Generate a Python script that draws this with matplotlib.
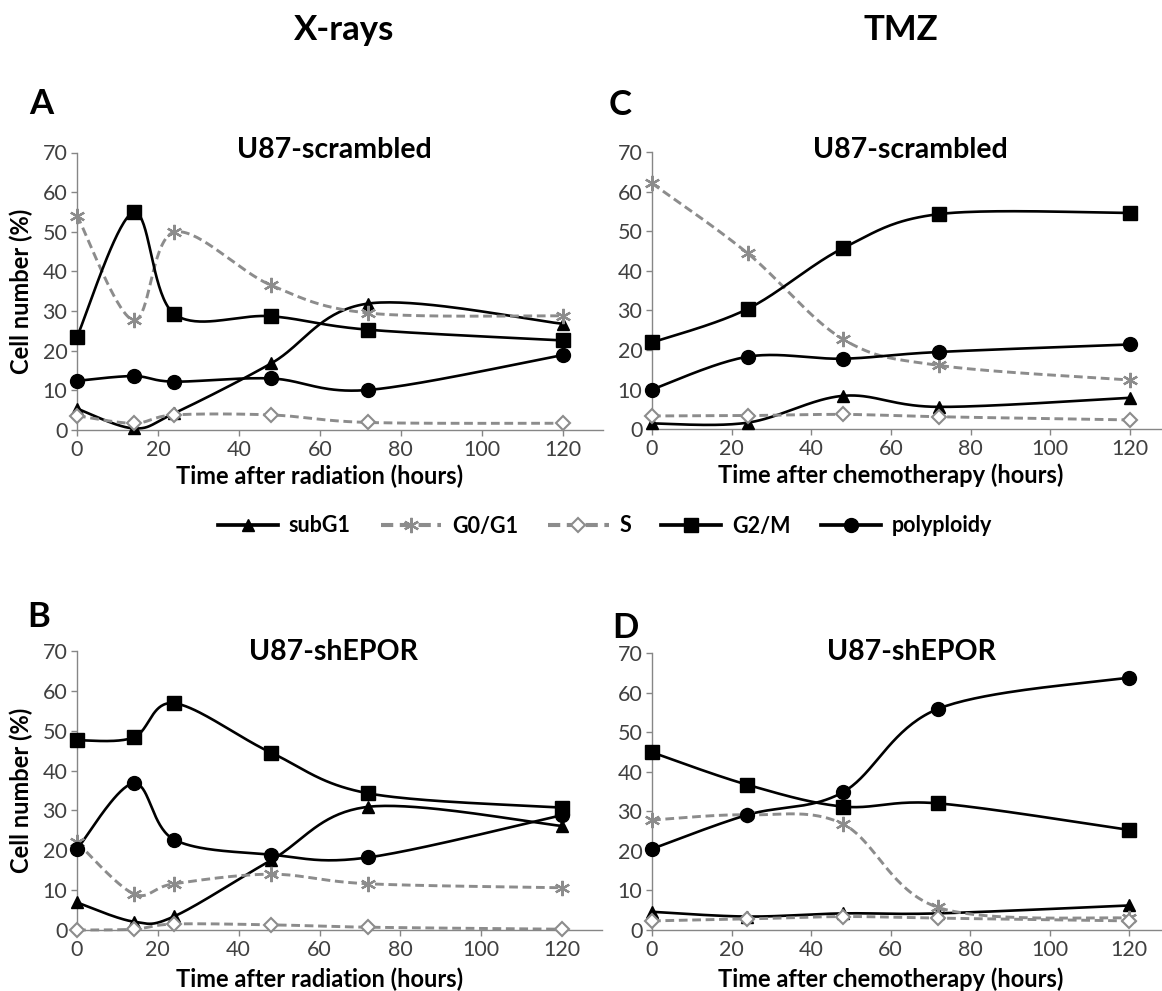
import numpy as np
import matplotlib
matplotlib.use("Agg")
import matplotlib.pyplot as plt
from matplotlib.lines import Line2D

plt.rcParams['font.family'] = ['Lato', 'DejaVu Sans']

# ---------------- data ----------------
x_rad = [0, 14, 24, 48, 72, 120]
x_tmz = [0, 24, 48, 72, 120]

# A: X-rays, U87-scrambled
A_subG1 = [5.4, 0.4, 4.2, 16.8, 31.9, 26.8]
A_G0G1 = [54.1, 27.7, 49.9, 36.5, 29.5, 28.8]
A_S = [3.6, 1.7, 3.8, 3.8, 1.9, 1.7]
A_G2M = [23.5, 54.9, 29.3, 28.7, 25.3, 22.6]
A_poly = [12.4, 13.6, 12.2, 13.0, 10.1, 18.9]

# B: X-rays, U87-shEPOR
B_subG1 = [6.9, 2.1, 3.4, 17.5, 30.9, 26.1]
B_G0G1 = [22.0, 9.1, 11.6, 14.0, 11.6, 10.6]
B_S = [0.0, 0.2, 1.5, 1.3, 0.7, 0.2]
B_G2M = [47.6, 48.3, 56.9, 44.5, 34.3, 30.7]
B_poly = [20.3, 36.8, 22.7, 18.9, 18.2, 28.8]

# C: TMZ, U87-scrambled
C_subG1 = [1.4, 1.6, 8.4, 5.6, 7.9]
C_G0G1 = [62.2, 44.5, 22.7, 16.1, 12.4]
C_S = [3.3, 3.4, 3.7, 3.1, 2.3]
C_G2M = [21.9, 30.4, 45.8, 54.4, 54.7]
C_poly = [10.0, 18.3, 17.8, 19.5, 21.4]

# D: TMZ, U87-shEPOR
D_subG1 = [4.6, 3.4, 4.2, 4.2, 6.2]
D_G0G1 = [27.8, 29.1, 26.8, 5.7, 3.0]
D_S = [2.3, 2.8, 3.4, 3.0, 2.3]
D_G2M = [44.9, 36.7, 31.2, 32.0, 25.3]
D_poly = [20.5, 29.1, 34.8, 55.9, 63.8]

series_names = ['subG1', 'G0/G1', 'S', 'G2/M', 'polyploidy']

# ---------------- styles ----------------
BLACK = '#000000'
GRAY = '#8c8c8c'
styles = {
    'subG1': dict(color=BLACK, ls='-', marker='^', mfc=BLACK, mec=BLACK, ms=9, mew=1),
    'G0/G1': dict(color=GRAY, ls=(0, (3, 1.6)), marker=(6, 2, 0), mfc=GRAY, mec=GRAY, ms=11, mew=1.6),
    'S': dict(color=GRAY, ls=(0, (3, 1.6)), marker='D', mfc='white', mec=GRAY, ms=7.5, mew=1.5),
    'G2/M': dict(color=BLACK, ls='-', marker='s', mfc=BLACK, mec=BLACK, ms=10, mew=1),
    'polyploidy': dict(color=BLACK, ls='-', marker='o', mfc=BLACK, mec=BLACK, ms=10, mew=1),
}
LW_BLACK = 1.9
LW_GRAY = 2.1


def smooth(x, y, n=40):
    """Excel-like smoothed line: cubic Bezier through points, tension 1/6."""
    P = np.column_stack([x, y]).astype(float)
    out = [P[0]]
    t = np.linspace(0, 1, n)[1:, None]
    for i in range(len(P) - 1):
        p0 = P[i - 1] if i > 0 else P[i]
        p1 = P[i]
        p2 = P[i + 1]
        p3 = P[i + 2] if i + 2 < len(P) else P[i + 1]
        c1 = p1 + (p2 - p0) / 6.0
        c2 = p2 - (p3 - p1) / 6.0
        seg = ((1 - t) ** 3) * p1 + 3 * ((1 - t) ** 2) * t * c1 + 3 * (1 - t) * t ** 2 * c2 + t ** 3 * p2
        out.extend(seg)
    return np.array(out)


W, H = 1162, 991
fig = plt.figure(figsize=(W / 100, H / 100), dpi=100)


def px_axes(x0, x120, y70, y0):
    """axes rect from pixel positions of x=0, x=120, y=70, y=0."""
    ux = (x120 - x0) / 120.0
    left = x0 / W
    width = 130 * ux / W
    bottom = 1 - y0 / H
    height = (y0 - y70) / H
    return fig.add_axes([left, bottom, width, height])


AXCOL = '#868686'
TICKCOL = '#404040'


def draw_panel(ax, x, data, xlabel, ylabel=None):
    for name, yv in zip(series_names, data):
        st = styles[name]
        lw = LW_GRAY if st['color'] == GRAY else LW_BLACK
        c = smooth(x, yv)
        ax.plot(c[:, 0], c[:, 1], color=st['color'], ls=st['ls'], lw=lw,
                solid_capstyle='butt', dash_capstyle='butt', zorder=2, clip_on=False)
    for name, yv in zip(series_names, data):
        st = styles[name]
        ax.plot(x, yv, ls='none', marker=st['marker'], ms=st['ms'], mfc=st['mfc'],
                mec=st['mec'], mew=st['mew'], zorder=3, clip_on=False)
    ax.set_xlim(0, 130)
    ax.set_ylim(0, 70)
    ax.set_xticks(range(0, 121, 20))
    ax.set_yticks(range(0, 71, 10))
    ax.set_facecolor('none')
    for s in ['top', 'right']:
        ax.spines[s].set_visible(False)
    for s in ['left', 'bottom']:
        ax.spines[s].set_color(AXCOL)
        ax.spines[s].set_linewidth(1.0)
    ax.tick_params(axis='both', direction='out', length=4, width=1.0, color=AXCOL,
                   labelcolor=TICKCOL, labelsize=15.5, pad=3)
    ax.set_xlabel(xlabel, fontsize=17, fontweight='bold')
    if ylabel:
        ax.set_ylabel(ylabel, fontsize=17, fontweight='bold')
        ax.yaxis.set_label_coords(-0.083, 0.5)


axA = px_axes(77, 562.5, 152.5, 430)
axC = px_axes(652, 1130, 152.5, 429)
axB = px_axes(77, 562, 651, 930)
axD = px_axes(652, 1129, 653, 930)

draw_panel(axA, x_rad, [A_subG1, A_G0G1, A_S, A_G2M, A_poly], 'Time after radiation (hours)', 'Cell number (%)')
draw_panel(axC, x_tmz, [C_subG1, C_G0G1, C_S, C_G2M, C_poly], 'Time after chemotherapy (hours)')
draw_panel(axB, x_rad, [B_subG1, B_G0G1, B_S, B_G2M, B_poly], 'Time after radiation (hours)', 'Cell number (%)')
draw_panel(axD, x_tmz, [D_subG1, D_G0G1, D_S, D_G2M, D_poly], 'Time after chemotherapy (hours)')

# x labels: centered on the 0-120 span
for ax in (axA, axC):
    ax.xaxis.set_label_coords(60 / 130, -0.125)
for ax in (axB, axD):
    ax.xaxis.set_label_coords(60 / 130, -0.135)


def ftext(px, py, s, size, **kw):
    fig.text(px / W, 1 - py / H, s, fontsize=size, fontweight='bold', ha='center', va='center', **kw)


ftext(344, 30, 'X-rays', 25)
ftext(901, 30, 'TMZ', 25)
ftext(41, 104, 'A', 25)
ftext(620, 105, 'C', 25)
ftext(39, 617, 'B', 25)
ftext(625, 628, 'D', 25)
ftext(334, 150, 'U87-scrambled', 20.5)
ftext(910, 150, 'U87-scrambled', 20.5)
ftext(333, 652, 'U87-shEPOR', 20.5)
ftext(911, 652, 'U87-shEPOR', 20.5)

# legend
handles = []
for name in series_names:
    st = styles[name]
    lw = LW_GRAY if st['color'] == GRAY else LW_BLACK
    handles.append(Line2D([0], [0], color=st['color'], ls=st['ls'], lw=lw * 1.4,
                          marker=st['marker'], ms=st['ms'], mfc=st['mfc'], mec=st['mec'], mew=st['mew']))
leg = fig.legend(handles, series_names, loc='center', bbox_to_anchor=(605 / W, 1 - 526 / H),
                 ncol=5, frameon=False, handlelength=2.8, handletextpad=0.5, columnspacing=1.4,
                 prop={'size': 15.5, 'weight': 'bold'})

fig.savefig('out.png', dpi=100)
